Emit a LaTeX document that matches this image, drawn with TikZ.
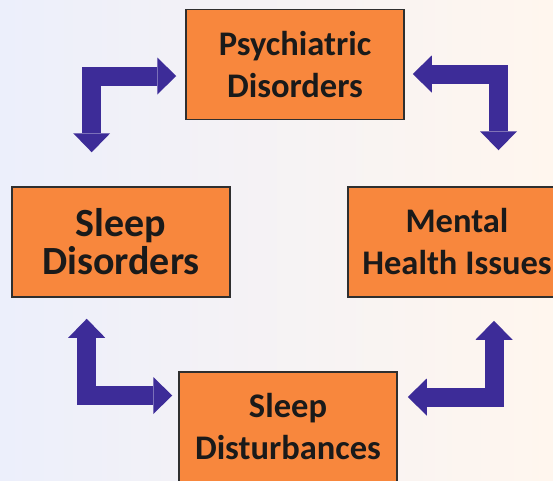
\documentclass[tikz,border=0pt]{standalone}
\usepackage{fontspec}
\setmainfont{Carlito}
\usetikzlibrary{arrows.meta}
\definecolor{boxorange}{HTML}{F8873D}
\definecolor{boxline}{HTML}{2F2F2F}
\definecolor{arrowblue}{HTML}{3D2C98}
\definecolor{boxtext}{HTML}{1A1A1A}
\tikzstyle{orange box}=[
    draw = boxline,
    line width = 1.5pt,
    fill = boxorange,
    text = boxtext,
    minimum width = 218pt,
    minimum height = 110pt,
    inner sep = 0pt,
    align = center,
    font = \bfseries\fontsize{34.5}{42}\selectfont
]

\begin{document}
\begin{tikzpicture}[x=1pt, y=-1pt,
    link/.style = {draw = arrowblue, line width = 19pt, line join = miter,
        arrows = {Triangle[width=37pt, length=19pt, line width=0pt 0]-Triangle[width=37pt, length=19pt, line width=0pt 0]}}]
        \useasboundingbox (0,0) rectangle (553,480);
        \fill[left color = {rgb,255:red,236;green,239;blue,251},
              middle color = {rgb,255:red,255;green,238;blue,243},
              right color = {rgb,255:red,255;green,246;blue,238}] (0,0) rectangle (553,480);

        \node[orange box] (psych) at (295,64.7) {Psychiatric\\Disorders};
        \node[orange box, font=\bfseries\fontsize{40}{38}\selectfont] (sleepdis) at (121,242) {Sleep\\Disorders};
        \node[orange box] (health) at (457,242) {Mental\\Health Issues};
        \node[orange box] (disturb) at (288,427) {Sleep\\Disturbances};

        \draw[link] ([shift={(-9,11.3)}]psych.west) -| ([shift={(-29.3,-34)}]sleepdis.north);
        \draw[link] ([shift={(8,9.3)}]psych.east) -| ([shift={(41.5,-36)}]health.north);
        \draw[link] ([shift={(-34.3,21)}]sleepdis.south) |- ([shift={(-6,-31.5)}]disturb.west);
        \draw[link] ([shift={(37,23)}]health.south) |- ([shift={(10,-30)}]disturb.east);

    \end{tikzpicture}
\end{document}
